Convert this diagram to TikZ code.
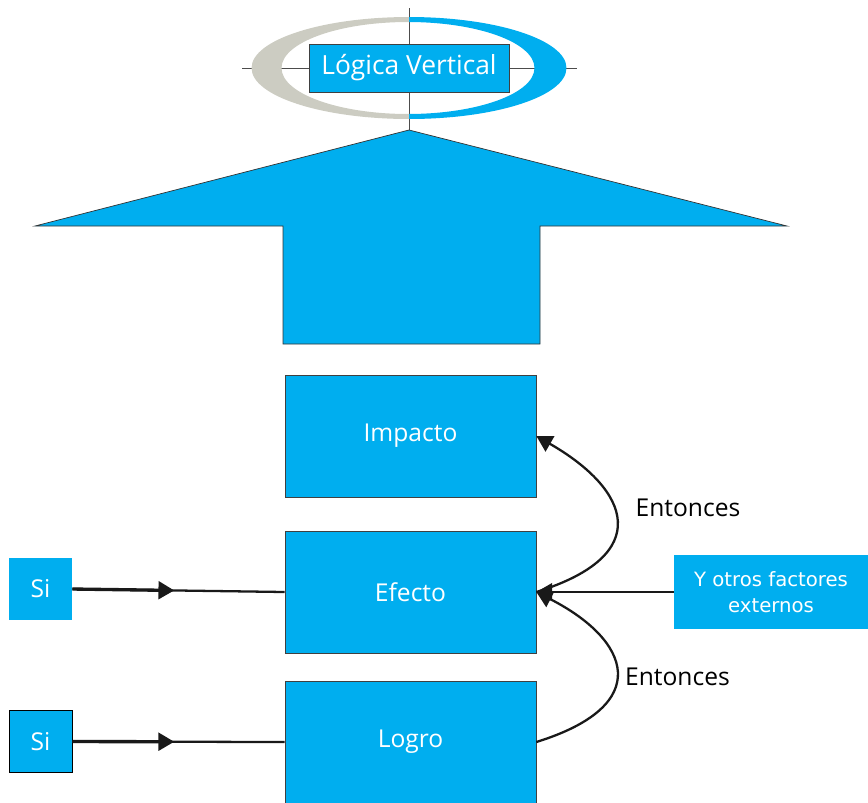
\documentclass[tikz,border=0pt]{standalone}
\usepackage{fontspec}
\setmainfont{Open Sans}
\newfontfamily\wideface{DejaVu Sans}
\usetikzlibrary{arrows.meta}
\usetikzlibrary{calc}
\definecolor{cyanblue}{RGB}{0,174,239}
\definecolor{ringgray}{RGB}{204,204,194}
\tikzstyle{block}=[fill=cyanblue, draw=black!75, thin, text=white, inner sep=0pt,
  font=\fontsize{14}{17}\selectfont, minimum width=5.02cm, minimum height=2.44cm]
\tikzstyle{sibox}=[block, minimum width=1.26cm, minimum height=1.24cm]
\tikzstyle{link}=[line width=1.3pt, black!90]
\tikzstyle{head}=[-{Triangle[length=9pt,width=10pt]}]
\tikzstyle{label}=[font=\fontsize{14}{17}\selectfont, inner sep=0pt]

\begin{document}
\begin{tikzpicture}[x=0.02cm, y=-0.02cm]
  \useasboundingbox (0,0) rectangle (868,802);
  % cross lines behind the ring
  \draw[black!70, thin] (409,8) -- (409,130);
  \draw[black!70, thin] (242,68) -- (577,68);
  % two-coloured ring
  \begin{scope}
    \clip (200,0) rectangle (409,140);
    \fill[ringgray, even odd rule]
      (409,68) ellipse [x radius=3.15cm, y radius=1.02cm]
      (408,68) ellipse [x radius=2.53cm, y radius=0.92cm];
  \end{scope}
  \begin{scope}
    \clip (409,0) rectangle (620,140);
    \fill[cyanblue, even odd rule]
      (409,68) ellipse [x radius=3.15cm, y radius=1.02cm]
      (408,68) ellipse [x radius=2.53cm, y radius=0.92cm];
  \end{scope}
  \node[block, minimum width=4cm, minimum height=0.96cm,
    font=\fontsize{15}{18}\selectfont] (logica) at (409,68) {Lógica Vertical};
  % big arrow
  \draw[fill=cyanblue, draw=black!80, thin]
    (35,226) -- (409,130) -- (787,226) -- (540,226)
    -- (540,344) -- (283,344) -- (283,226) -- cycle;

  \node[block] (impacto) at (410.5,436) {Impacto};
  \node[block] (efecto) at (410.5,592) {Efecto};
  \node[block] (logro) at (410.5,742) {Logro};
  \node[sibox, draw=none] (si1) at (40.5,589) {Si};
  \node[sibox, draw=black] (si2) at (40.5,741.5) {Si};
  \node[block, draw=none, minimum width=3.88cm, minimum height=1.48cm,
    align=center, font=\wideface\fontsize{11.2}{14.7}\selectfont]
    (factores) at (771,592) {Y otros factores\\externos};

  \draw[link] (si1.east) -- (efecto.west);
  \draw[link, line width=1.9pt, head] (si1.east) -- ($(si1.east)!0.48!(efecto.west)$);
  \draw[link] (si2.east) -- (logro.west);
  \draw[link, line width=1.9pt, head] (si2.east) -- ($(si2.east)!0.48!(logro.west)$);
  \draw[link, head] (factores.west) -- (efecto.east);

  \draw[link, head] (efecto.east)
    .. controls ($(efecto.east)+(119,-37)$) and ($(impacto.east)+(94,54)$) .. (impacto.east);
  \draw[link, head] (logro.east)
    .. controls ($(logro.east)+(119,-37)$) and ($(efecto.east)+(94,48)$) .. (efecto.east);

  \node[label] (entonces1) at (688,508) {Entonces};
  \node[label] (entonces2) at (677.5,677) {Entonces};
\end{tikzpicture}
\end{document}
